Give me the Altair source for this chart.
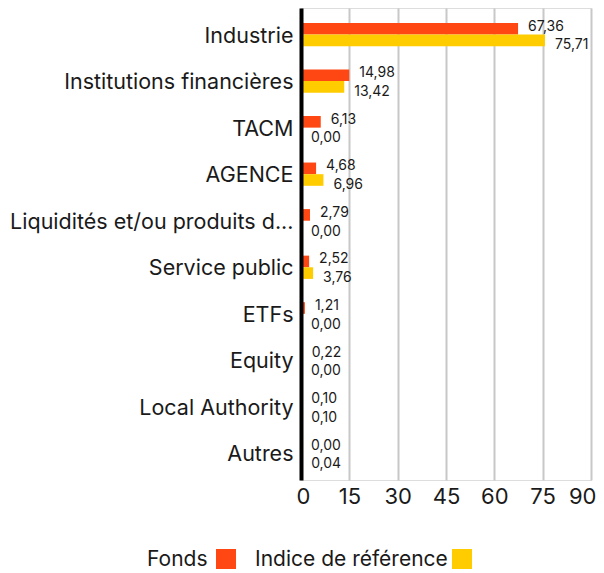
import altair as alt
import pandas as pd

categories = ["Industrie", "Institutions financières", "TACM", "AGENCE",
              "Liquidités et/ou produits d...", "Service public", "ETFs",
              "Equity", "Local Authority", "Autres"]
fonds = [67.36, 14.98, 6.13, 4.68, 2.79, 2.52, 1.21, 0.22, 0.10, 0.00]
indice = [75.71, 13.42, 0.00, 6.96, 0.00, 3.76, 0.00, 0.00, 0.10, 0.04]
series = ["Fonds", "Indice de référence"]
colors = ["#FF4713", "#FFCC00"]
x_ticks = [0, 15, 30, 45, 60, 75, 90]

rows = []
for c, f, i in zip(categories, fonds, indice):
    for s, v in zip(series, [f, i]):
        rows.append({"cat": c, "series": s, "value": v,
                     "label": f"{v:.2f}".replace(".", ",")})
df = pd.DataFrame(rows)

FONT = "Inter"

y_enc = alt.Y("cat:N", sort=categories,
              scale=alt.Scale(domain=categories, paddingInner=0.5, paddingOuter=0.32),
              axis=alt.Axis(title=None, labelFontSize=21.5, labelColor="#1a1a1a",
                            labelPadding=8, labelOffset=2, ticks=False,
                            domainColor="#000000", domainWidth=4, labelLimit=400,
                            zindex=2, labelFont=FONT))
x_enc = alt.X("value:Q", scale=alt.Scale(domain=[0, 90], nice=False),
              axis=alt.Axis(title=None, values=x_ticks, labelFontSize=22,
                            labelColor="#1a1a1a", ticks=False, domain=False,
                            gridColor="#c8c8c8", gridWidth=2, labelPadding=6,
                            labelFlush=True, labelFlushOffset=5,
                            labelFont=FONT, zindex=0))
yoff = alt.YOffset("series:N", sort=series,
                   scale=alt.Scale(domain=series, paddingInner=0, paddingOuter=0))

base = alt.Chart(df)

bars = base.mark_bar(opacity=1).encode(
    y=y_enc, x=x_enc, yOffset=yoff,
    color=alt.Color("series:N", scale=alt.Scale(domain=series, range=colors), legend=None),
)

txt_f = base.transform_filter(alt.datum.series == "Fonds").mark_text(
    align="left", baseline="middle", dx=10, dy=-2, fontSize=14, font=FONT, color="#1a1a1a"
).encode(y=alt.Y("cat:N", sort=categories), x="value:Q", yOffset=yoff, text="label:N")

txt_i = base.transform_filter(alt.datum.series == "Indice de référence").mark_text(
    align="left", baseline="middle", dx=10, dy=5, fontSize=14, font=FONT, color="#1a1a1a"
).encode(y=alt.Y("cat:N", sort=categories), x="value:Q", yOffset=yoff, text="label:N")

leg_y = 552
leg1_t = alt.Chart(pd.DataFrame({"t": [series[0]]})).mark_text(
    align="left", baseline="middle", fontSize=21, font=FONT, color="#1a1a1a"
).encode(text="t:N", x=alt.value(-154), y=alt.value(leg_y))
leg1_s = alt.Chart(pd.DataFrame({"t": [series[0]]})).mark_square(
    size=400, opacity=1, color=colors[0]
).encode(x=alt.value(-75), y=alt.value(leg_y - 1))
leg2_t = alt.Chart(pd.DataFrame({"t": [series[1]]})).mark_text(
    align="left", baseline="middle", fontSize=21, font=FONT, color="#1a1a1a"
).encode(text="t:N", x=alt.value(-46), y=alt.value(leg_y))
leg2_s = alt.Chart(pd.DataFrame({"t": [series[1]]})).mark_square(
    size=400, opacity=1, color=colors[1]
).encode(x=alt.value(161), y=alt.value(leg_y - 1))

chart = alt.layer(bars, txt_f, txt_i, leg1_t, leg1_s, leg2_t, leg2_s).resolve_scale(
    color="independent"
).properties(
    width=290, height=472,
    autosize=alt.AutoSizeParams(type="none"),
    padding={"left": 293, "top": 0, "right": 5, "bottom": 92},
).configure_view(stroke=None).configure(font=FONT)

chart.save("out.html", embed_options={"renderer": "svg", "actions": False})
